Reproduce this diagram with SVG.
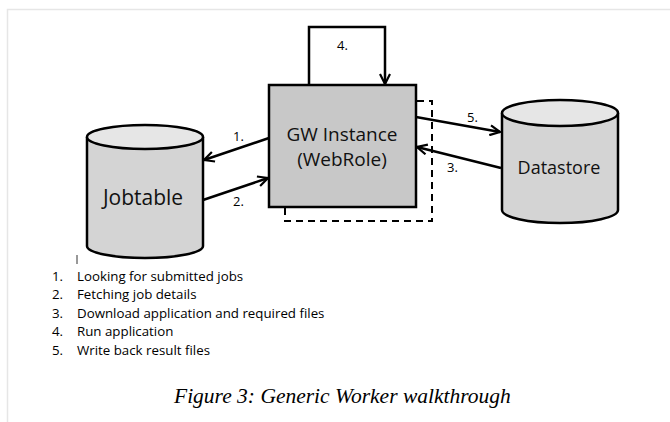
<svg xmlns="http://www.w3.org/2000/svg" width="670" height="422" viewBox="0 0 670 422">
<defs>
<marker id="arr" viewBox="0 0 12 12" refX="11" refY="6" markerWidth="12" markerHeight="12" markerUnits="userSpaceOnUse" orient="auto">
<path d="M1,1 L11,6 L1,11" fill="none" stroke="#000" stroke-width="2.2" stroke-linejoin="miter"/>
</marker>
</defs>
<style>
.bg{fill:#fff}
.frame{stroke:#e6e6e6;stroke-width:1.5;fill:none}
.body{fill:#d4d4d4;stroke:#000;stroke-width:2.5}
.top{fill:#e6e6e6;stroke:#000;stroke-width:2.5}
.box{fill:#c8c8c8;stroke:#000;stroke-width:2.5}
.dash{fill:none;stroke:#000;stroke-width:2;stroke-dasharray:7,5}
.conn{fill:none;stroke:#000;stroke-width:2.5}
.lbl{font-family:"Open Sans","Liberation Sans",sans-serif;fill:#000}
.node{font-family:"Open Sans","Liberation Sans",sans-serif;fill:#111;text-anchor:middle}
.list{font-family:"Open Sans","Liberation Sans",sans-serif;font-size:13.3px;fill:#000}
.cap{font-family:"Liberation Serif",serif;font-style:italic;font-size:21.5px;fill:#000}
</style>
<rect class="bg" x="0" y="0" width="670" height="422"/>
<path class="frame" d="M7.5,422 V9.5 H670"/>

<g id="dashed-box">
<rect class="dash" x="285" y="101" width="147" height="120"/>
</g>

<g id="gw-instance">
<rect class="box" x="269" y="85" width="147" height="122"/>
<text class="node" x="342" y="141" font-size="19">GW Instance</text>
<text class="node" x="342" y="166" font-size="19">(WebRole)</text>
</g>

<g id="jobtable">
<path class="body" d="M87,137 V246 A58,12 0 0 0 203,246 V137"/>
<ellipse class="top" cx="145" cy="137" rx="58" ry="12"/>
<text class="node" x="143" y="205" font-size="21">Jobtable</text>
</g>

<g id="datastore">
<path class="body" d="M502,113 V210 A58,13 0 0 0 618,210 V113"/>
<ellipse class="top" cx="560" cy="113" rx="58" ry="13"/>
<text class="node" x="559" y="174" font-size="18">Datastore</text>
</g>

<g id="connectors">
<path class="conn" d="M309,85 V27 H385 V84" marker-end="url(#arr)"/>
<line class="conn" x1="269" y1="138" x2="204" y2="160" marker-end="url(#arr)"/>
<line class="conn" x1="203" y1="200" x2="268" y2="178" marker-end="url(#arr)"/>
<line class="conn" x1="416" y1="117" x2="500" y2="132" marker-end="url(#arr)"/>
<line class="conn" x1="501" y1="168" x2="417" y2="147" marker-end="url(#arr)"/>
<text class="lbl" x="337" y="50" font-size="13">4.</text>
<text class="lbl" x="233" y="141" font-size="13">1.</text>
<text class="lbl" x="233" y="206" font-size="13">2.</text>
<text class="lbl" x="467" y="122" font-size="13">5.</text>
<text class="lbl" x="447" y="172" font-size="13">3.</text>
</g>

<line x1="77" y1="255" x2="77" y2="264" stroke="#333" stroke-width="1"/>

<g id="legend">
<text class="list" x="52" y="281">1.</text><text class="list" x="77" y="281">Looking for submitted jobs</text>
<text class="list" x="52" y="299">2.</text><text class="list" x="77" y="299">Fetching job details</text>
<text class="list" x="52" y="318">3.</text><text class="list" x="77" y="318">Download application and required files</text>
<text class="list" x="52" y="336">4.</text><text class="list" x="77" y="336">Run application</text>
<text class="list" x="52" y="355">5.</text><text class="list" x="77" y="355">Write back result files</text>
</g>

<text class="cap" x="174" y="403">Figure 3: Generic Worker walkthrough</text>
</svg>
